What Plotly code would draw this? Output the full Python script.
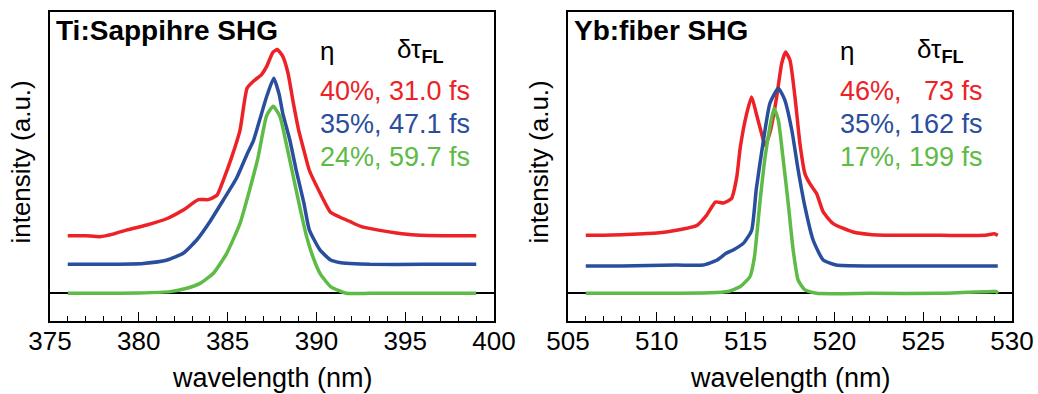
import plotly.graph_objects as go

# ---------------- data (normalized spectra) ----------------
ti_red_wl = [376.0, 377.0, 377.8, 378.6, 379.3, 380.4, 381.6, 382.5, 383.35, 383.9, 384.4, 384.76,
             385.23, 385.7, 386.1, 386.5, 386.9, 387.2, 387.55, 387.8, 388.1, 388.4, 388.7, 389.0,
             389.3, 389.6, 390.2, 390.8, 391.3, 391.9, 392.5, 393.5, 394.5, 395.6, 397.5, 399.0]
ti_red = [0.0, 0.0, -0.005, 0.01, 0.03, 0.056, 0.092, 0.137, 0.193, 0.193, 0.216, 0.297,
          0.42, 0.565, 0.79, 0.83, 0.86, 0.905, 0.98, 0.995, 0.96, 0.87, 0.71, 0.565,
          0.455, 0.35, 0.23, 0.125, 0.10, 0.075, 0.05, 0.03, 0.015, 0.004, 0.0, 0.0]

ti_blue_wl = [376.0, 378.0, 380.25, 381.6, 382.5, 383.26, 384.0, 384.76, 385.5, 386.1, 386.45,
              386.8, 387.2, 387.6, 387.9, 388.1, 388.5, 388.9, 389.3, 389.6, 390.2, 390.8,
              391.3, 391.9, 393.0, 396.0, 399.0]
ti_blue = [0.0, 0.0, 0.005, 0.023, 0.059, 0.13, 0.228, 0.344, 0.46, 0.59, 0.66,
           0.77, 0.897, 0.995, 0.91, 0.81, 0.666, 0.487, 0.326, 0.184, 0.077, 0.023,
           0.01, 0.005, 0.0, 0.0, 0.0]

ti_green_wl = [376.0, 378.0, 380.0, 381.76, 382.7, 383.45, 384.2, 384.95, 385.7, 386.26, 386.7,
               387.2, 387.57, 387.95, 388.3, 388.7, 389.1, 389.45, 389.8, 390.2, 390.8, 391.7,
               393.0, 396.0, 399.0]
ti_green = [0.0, 0.0, 0.002, 0.009, 0.027, 0.053, 0.107, 0.214, 0.374, 0.56, 0.72,
            0.95, 1.0, 0.945, 0.802, 0.624, 0.446, 0.303, 0.196, 0.107, 0.036, 0.0,
            0.0, 0.0, 0.0]

yb_red_wl = [506.0, 507.0, 508.0, 509.25, 510.0, 511.1, 512.25, 512.8, 513.3, 513.75, 514.2,
             514.5, 514.7, 515.06, 515.34, 515.6, 515.9, 516.1, 516.4, 516.75, 517.03, 517.25,
             517.5, 517.78, 518.06, 518.34, 518.62, 519.0, 519.37, 519.93, 521.05, 522.0,
             523.7, 526.0, 528.5, 529.0, 529.2]
yb_red = [0.0, 0.0, 0.003, 0.009, 0.012, 0.027, 0.053, 0.107, 0.178, 0.173, 0.196,
          0.31, 0.47, 0.651, 0.74, 0.651, 0.544, 0.48, 0.56, 0.74, 0.918, 0.98,
          0.936, 0.74, 0.49, 0.33, 0.276, 0.223, 0.125, 0.063, 0.018, 0.005,
          0.0, 0.0, 0.0, 0.008, 0.0]

yb_blue_wl = [506.0, 508.0, 511.1, 512.6, 513.4, 513.9, 514.3, 514.87, 515.34, 515.6, 516.0,
              516.37, 516.84, 517.2, 517.6, 517.96, 518.34, 518.8, 519.37, 520.1, 522.0,
              526.0, 529.2]
yb_blue = [0.0, 0.0, 0.005, 0.005, 0.032, 0.068, 0.086, 0.121, 0.19, 0.41, 0.67,
           0.87, 0.95, 0.89, 0.727, 0.513, 0.317, 0.139, 0.032, 0.005, 0.0,
           0.0, 0.0]

yb_green_wl = [506.0, 510.0, 513.0, 514.0, 514.7, 515.25, 515.5, 515.8, 516.1, 516.37, 516.6,
               516.84, 517.1, 517.4, 517.68, 517.96, 518.34, 519.0, 522.0, 526.0, 528.9,
               529.1, 529.2]
yb_green = [0.0, 0.0, 0.003, 0.01, 0.036, 0.09, 0.196, 0.48, 0.73, 0.89, 0.99,
            0.927, 0.73, 0.48, 0.23, 0.07, 0.018, 0.0, 0.0, 0.0, 0.01,
            0.01, 0.0]

ti_offsets = [0.308, 0.155, 0.0]   # red, blue, green vertical offsets
yb_offsets = [0.31, 0.146, 0.0]

ti_labels = ["40%, 31.0 fs", "35%, 47.1 fs", "24%, 59.7 fs"]
yb_labels = ["46%, \u200773 fs", "35%, 162 fs", "17%, 199 fs"]

panel_titles = ["Ti:Sappihre SHG", "Yb:fiber SHG"]
x_ranges = [[375, 400], [505, 530]]
x_title = "wavelength (nm)"
y_title = "intensity (a.u.)"

colors = ["#EC2227", "#2A4E9E", "#5DBB46"]
FONT = "Arial, Liberation Sans, sans-serif"

# ---------------- figure ----------------
fig = go.Figure()

ti_series = [(ti_red_wl, ti_red), (ti_blue_wl, ti_blue), (ti_green_wl, ti_green)]
yb_series = [(yb_red_wl, yb_red), (yb_blue_wl, yb_blue), (yb_green_wl, yb_green)]

for (wl, v), off, c in zip(ti_series, ti_offsets, colors):
    fig.add_trace(go.Scatter(x=wl, y=[a + off for a in v], mode="lines",
                             line=dict(color=c, width=3.5, shape="spline", smoothing=0.5),
                             xaxis="x", yaxis="y", showlegend=False))
for (wl, v), off, c in zip(yb_series, yb_offsets, colors):
    fig.add_trace(go.Scatter(x=wl, y=[a + off for a in v], mode="lines",
                             line=dict(color=c, width=3.5, shape="spline", smoothing=0.5),
                             xaxis="x2", yaxis="y2", showlegend=False))

W, H = 1038, 394
dom1 = [50 / W, 494 / W]
dom2 = [568 / W, 1012 / W]
ydom = [(H - 321) / H, (H - 12) / H]
yr = [-0.148, 1.504]

xcommon = dict(showline=True, linecolor="black", linewidth=2, mirror=True, automargin=False,
               ticks="inside", ticklen=9, tickwidth=1.3, tickcolor="black", dtick=5,
               ticklabelstandoff=-4,
               minor=dict(dtick=1, ticks="inside", ticklen=5, tickwidth=1.3, tickcolor="black"),
               showgrid=False, zeroline=False,
               tickfont=dict(family=FONT, size=26, color="black"))
ycommon = dict(showline=True, linecolor="black", linewidth=2, mirror=True, automargin=False,
               showticklabels=False, ticks="", showgrid=False,
               zeroline=True, zerolinecolor="black", zerolinewidth=1.5,
               range=yr, fixedrange=True)

fig.update_layout(
    width=W, height=H,
    margin=dict(l=0, r=0, t=0, b=0),
    paper_bgcolor="white", plot_bgcolor="white",
    xaxis=dict(domain=dom1, range=x_ranges[0], anchor="y", **xcommon),
    yaxis=dict(domain=ydom, anchor="x", **ycommon),
    xaxis2=dict(domain=dom2, range=x_ranges[1], anchor="y2", **xcommon),
    yaxis2=dict(domain=ydom, anchor="x2", **ycommon),
)

ann = []
for i, dom in enumerate([dom1, dom2]):
    xc = (dom[0] + dom[1]) / 2
    # x title
    ann.append(dict(text=x_title, x=xc, y=(H - 378) / H, xref="paper", yref="paper",
                    showarrow=False, xanchor="center", yanchor="middle",
                    font=dict(family=FONT, size=27, color="black")))
    # y title
    ann.append(dict(text=y_title, x=(dom[0] * W - 29) / W, y=(ydom[0] + ydom[1]) / 2 + 0.01,
                    xref="paper", yref="paper", showarrow=False, textangle=-90,
                    xanchor="center", yanchor="middle",
                    font=dict(family=FONT, size=26, color="black")))
    # panel title
    ann.append(dict(text="<b>" + panel_titles[i] + "</b>", x=(dom[0] * W + 4) / W, y=(H - 31) / H,
                    xref="paper", yref="paper", showarrow=False, xanchor="left", yanchor="middle",
                    font=dict(family=FONT, size=28, color="black")))

# legend-like text blocks
for dom, labels, etax, tdx in [(dom1, ti_labels, 318, 395), (dom2, yb_labels, 838, 915)]:
    ann.append(dict(text="\u03b7", x=etax / W, y=(H - 51) / H, xref="paper", yref="paper",
                    showarrow=False, xanchor="left", yanchor="middle",
                    font=dict(family=FONT, size=26, color="black")))
    ann.append(dict(text="\u03b4\u03c4<sub><b>FL</b></sub>", x=tdx / W, y=(H - 50) / H,
                    xref="paper", yref="paper", showarrow=False, xanchor="left", yanchor="middle",
                    font=dict(family=FONT, size=26, color="black")))
    for j, (lab, c) in enumerate(zip(labels, colors)):
        ann.append(dict(text=lab, x=etax / W, y=(H - (91 + 33 * j)) / H, xref="paper", yref="paper",
                        showarrow=False, xanchor="left", yanchor="middle",
                        font=dict(family=FONT, size=27, color=c)))

fig.update_layout(annotations=ann)
fig.write_html("out.html")
